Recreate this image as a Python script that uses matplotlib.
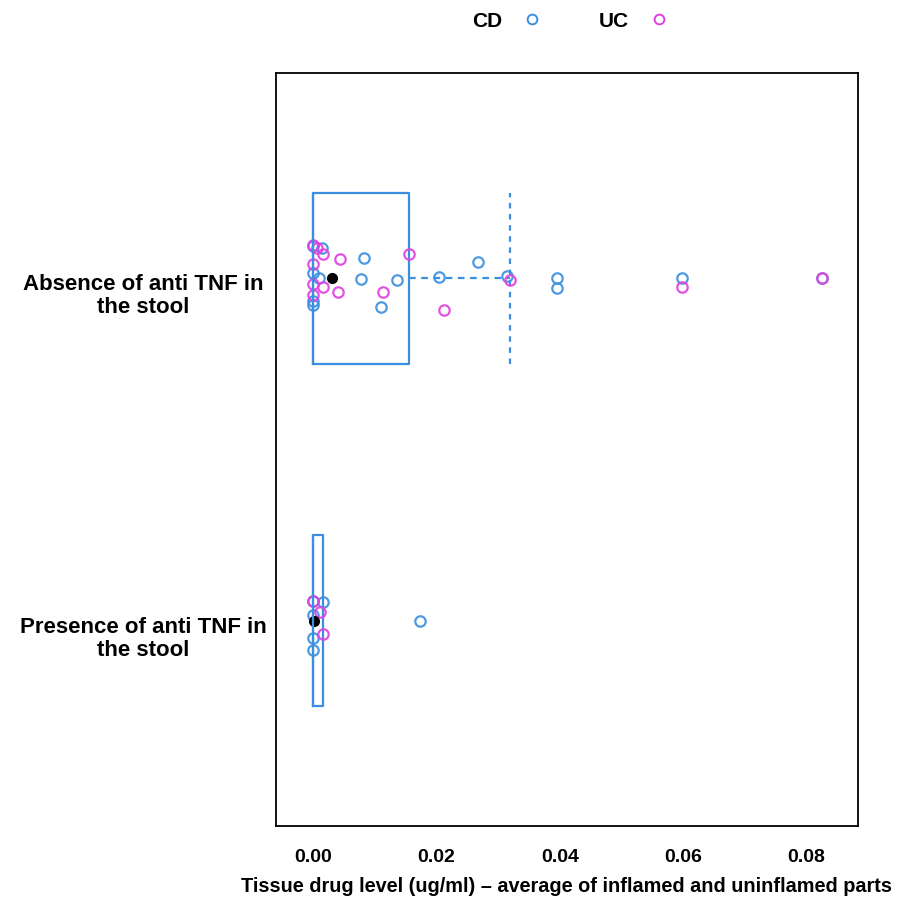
import matplotlib
matplotlib.use("Agg")
import matplotlib.pyplot as plt
from matplotlib.lines import Line2D
import matplotlib.transforms as mtransforms

plt.rcParams['font.family'] = ['Liberation Sans', 'DejaVu Sans']
plt.rcParams['font.weight'] = 'bold'

# ---- data ----
groups = ["Presence of anti TNF in\nthe stool", "Absence of anti TNF in\nthe stool"]
group_pos = [1, 2]

# Absence group (top)
abs_cd_x = [0.0000, 0.0014, 0.0000, 0.0009, 0.0000, 0.0000, 0.0083, 0.0078, 0.0136,
            0.0110, 0.0204, 0.0268, 0.0315, 0.0396, 0.0396, 0.0599, 0.0826]
abs_cd_j = [0.093, 0.088, 0.015, 0.002, -0.067, -0.078, 0.058, -0.002, -0.005,
            -0.083, 0.003, 0.047, 0.008, 0.0, -0.029, 0.0, 0.002]
abs_uc_x = [0.0000, 0.0006, 0.0016, 0.0043, 0.0000, 0.0000, 0.0017, 0.0000, 0.0041,
            0.0114, 0.0155, 0.0212, 0.0320, 0.0599, 0.0826]
abs_uc_j = [0.097, 0.088, 0.072, 0.055, 0.041, -0.018, -0.026, -0.049, -0.039,
            -0.039, 0.070, -0.093, -0.005, -0.027, 0.002]

# Presence group (bottom)
pre_cd_x = [0.0000, 0.0017, 0.0000, 0.0000, 0.0000, 0.0174]
pre_cd_j = [0.056, 0.053, 0.015, -0.050, -0.085, 0.0]
pre_uc_x = [0.0000, 0.0011, 0.0016]
pre_uc_j = [0.056, 0.025, -0.040]

# box statistics (presence, absence)
box_q1 = [0.0, 0.0]
box_med = [0.0, 0.0]
box_q3 = [0.0017, 0.0155]
box_whislo = [0.0, 0.0]
box_whishi = [0.0017, 0.0320]
group_means = [0.0002, 0.0031]

xticks = [0.00, 0.02, 0.04, 0.06, 0.08]
xlabel = "Tissue drug level (ug/ml) \u2013 average of inflamed and uninflamed parts"
legend_labels = ["CD", "UC"]

CD_COLOR = "#3a8fe0"
UC_COLOR = "#e040e0"
BOX_COLOR = "#3a8fe0"

fig = plt.figure(figsize=(8.99, 9.03), dpi=100)
ax = fig.add_axes([0.307, 0.0842, 0.647, 0.834])

# boxes
stats = []
for i in range(2):
    stats.append(dict(q1=box_q1[i], med=box_med[i], q3=box_q3[i],
                      whislo=box_whislo[i], whishi=box_whishi[i], fliers=[]))
ax.bxp(stats, positions=group_pos, vert=False, widths=0.5, showfliers=False,
       showcaps=False,
       boxprops=dict(color=BOX_COLOR, linewidth=1.6),
       medianprops=dict(color=BOX_COLOR, linewidth=1.6),
       whiskerprops=dict(color=BOX_COLOR, linewidth=1.6, linestyle=(0, (3, 2.5))))
# whisker end lines (dashed, full box height)
for i in range(2):
    if box_whishi[i] > box_q3[i]:
        ax.plot([box_whishi[i], box_whishi[i]], [group_pos[i] - 0.25, group_pos[i] + 0.25],
                color=BOX_COLOR, linewidth=1.6, linestyle=(0, (2.5, 2.5)))

ms = 7.5
mew = 1.6
ax.plot(pre_cd_x, [1 + j for j in pre_cd_j], 'o', mfc='none', mec=CD_COLOR, ms=ms, mew=mew, alpha=0.9)
ax.plot(abs_cd_x, [2 + j for j in abs_cd_j], 'o', mfc='none', mec=CD_COLOR, ms=ms, mew=mew, alpha=0.9)
ax.plot(pre_uc_x, [1 + j for j in pre_uc_j], 'o', mfc='none', mec=UC_COLOR, ms=ms, mew=mew, alpha=0.9)
ax.plot(abs_uc_x, [2 + j for j in abs_uc_j], 'o', mfc='none', mec=UC_COLOR, ms=ms, mew=mew, alpha=0.9)
ax.plot(group_means, group_pos, 'o', color='black', ms=7)

ax.set_xlim(-0.006, 0.0883)
ax.set_ylim(0.4, 2.6)
ax.set_xticks(xticks)
ax.set_xticklabels([f"{t:.2f}" for t in xticks], fontsize=14, fontweight='bold')
ax.set_yticks([])
ax.tick_params(axis='x', length=0, pad=16)
ax.set_xlabel(xlabel, fontsize=14.3, fontweight='bold', labelpad=8)
for s in ax.spines.values():
    s.set_linewidth(1.3)
    s.set_color('black')

# group labels
trans = mtransforms.blended_transform_factory(fig.transFigure, ax.transData)
for g, pos in zip(groups, group_pos):
    ax.text(143.5 / 899, pos - 0.05, g, transform=trans, ha='center', va='center',
            multialignment='center', fontsize=16, fontweight='bold', linespacing=1.12)

handles = [Line2D([], [], marker='o', linestyle='none', mfc='none', mec=CD_COLOR, ms=7, mew=1.4),
           Line2D([], [], marker='o', linestyle='none', mfc='none', mec=UC_COLOR, ms=7, mew=1.4)]
fig.legend(handles, legend_labels, loc='center', bbox_to_anchor=(0.635, 0.976), ncol=2,
           frameon=False, markerfirst=False, prop=dict(size=15, weight='bold'),
           handlelength=1.0, handletextpad=0.94, columnspacing=2.72)

fig.savefig("out.png", dpi=100)
